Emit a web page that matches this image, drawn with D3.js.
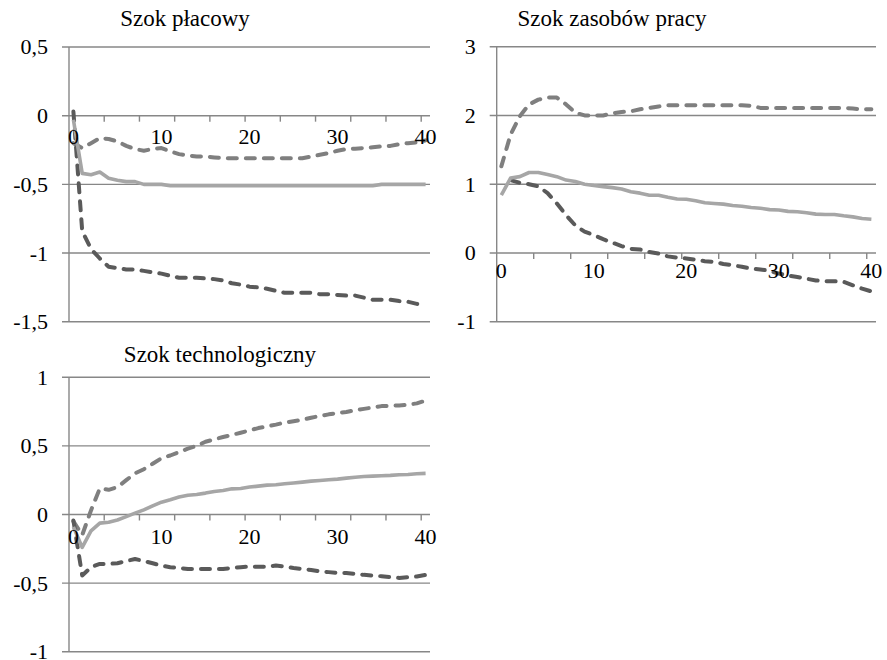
<!DOCTYPE html>
<html>
<head>
<meta charset="utf-8">
<script src="https://cdn.jsdelivr.net/npm/d3@7"></script>
<style>
  html, body { margin: 0; padding: 0; background: #fff; }
  svg { display: block; }
  text { font-family: "Liberation Serif", "Times New Roman", serif; fill: #000; }
</style>
</head>
<body>
<svg id="chart" width="887" height="660"></svg>
<script>
// Horizon 0..40 quarters
const periods = d3.range(0, 41);
const xTickLabels = [0, 10, 20, 30, 40];

// Szok płacowy
const wageMean  = [-0.03,-0.42,-0.43,-0.41,-0.455,-0.47,-0.48,-0.48,-0.5,-0.5,-0.5,-0.51,-0.51,-0.51,-0.51,-0.51,-0.51,-0.51,-0.51,-0.51,-0.51,-0.51,-0.51,-0.51,-0.51,-0.51,-0.51,-0.51,-0.51,-0.51,-0.51,-0.51,-0.51,-0.51,-0.51,-0.5,-0.5,-0.5,-0.5,-0.5,-0.5];
const wageUpper = [-0.2,-0.236,-0.2,-0.163,-0.17,-0.187,-0.22,-0.243,-0.255,-0.243,-0.236,-0.26,-0.28,-0.29,-0.297,-0.297,-0.304,-0.31,-0.31,-0.31,-0.31,-0.31,-0.31,-0.31,-0.31,-0.31,-0.31,-0.297,-0.285,-0.272,-0.255,-0.243,-0.24,-0.236,-0.23,-0.224,-0.22,-0.207,-0.2,-0.195,-0.18];
const wageLower = [0.03,-0.84,-0.97,-1.04,-1.1,-1.11,-1.12,-1.12,-1.13,-1.14,-1.15,-1.165,-1.18,-1.18,-1.18,-1.185,-1.19,-1.2,-1.22,-1.23,-1.245,-1.25,-1.26,-1.275,-1.29,-1.29,-1.29,-1.29,-1.3,-1.3,-1.305,-1.31,-1.31,-1.325,-1.34,-1.34,-1.34,-1.35,-1.355,-1.37,-1.38];

// Szok zasobów pracy (lower band has no value in period 0)
const laborMean  = [0.84,1.09,1.11,1.17,1.17,1.14,1.11,1.06,1.04,1.0,0.98,0.965,0.95,0.93,0.89,0.87,0.84,0.84,0.81,0.785,0.78,0.76,0.73,0.72,0.71,0.69,0.68,0.66,0.65,0.63,0.625,0.605,0.6,0.585,0.565,0.56,0.56,0.54,0.525,0.5,0.49];
const laborUpper = [1.26,1.72,1.99,2.16,2.23,2.26,2.26,2.16,2.04,2.0,2.0,2.0,2.03,2.05,2.06,2.09,2.11,2.13,2.15,2.15,2.15,2.15,2.15,2.15,2.15,2.15,2.15,2.14,2.11,2.11,2.11,2.11,2.11,2.11,2.11,2.11,2.11,2.11,2.1,2.09,2.09];
const laborLower = [null,1.06,1.02,1.0,0.97,0.87,0.72,0.55,0.4,0.31,0.26,0.2,0.15,0.1,0.06,0.05,0.015,-0.01,-0.05,-0.07,-0.08,-0.1,-0.12,-0.13,-0.16,-0.18,-0.2,-0.23,-0.24,-0.26,-0.3,-0.33,-0.35,-0.375,-0.4,-0.41,-0.41,-0.42,-0.47,-0.52,-0.56];

// Szok technologiczny
const techMean  = [-0.09,-0.24,-0.12,-0.063,-0.056,-0.04,-0.015,0.01,0.034,0.063,0.09,0.107,0.127,0.14,0.146,0.156,0.168,0.175,0.187,0.19,0.2,0.207,0.214,0.217,0.224,0.23,0.236,0.243,0.248,0.253,0.258,0.265,0.272,0.277,0.28,0.282,0.285,0.29,0.292,0.297,0.3];
const techUpper = [-0.05,-0.15,0.03,0.19,0.18,0.2,0.25,0.3,0.33,0.37,0.41,0.43,0.455,0.48,0.5,0.53,0.547,0.565,0.58,0.596,0.613,0.63,0.642,0.655,0.67,0.68,0.69,0.705,0.718,0.73,0.74,0.747,0.76,0.77,0.78,0.79,0.793,0.795,0.8,0.81,0.83];
const techLower = [-0.044,-0.445,-0.384,-0.36,-0.36,-0.355,-0.34,-0.324,-0.34,-0.355,-0.372,-0.384,-0.39,-0.397,-0.397,-0.397,-0.397,-0.397,-0.39,-0.384,-0.38,-0.38,-0.38,-0.372,-0.38,-0.39,-0.397,-0.404,-0.414,-0.42,-0.426,-0.426,-0.433,-0.44,-0.445,-0.45,-0.457,-0.462,-0.457,-0.452,-0.44];

// Value-axis ticks per panel
const wageTicks  = [0.5, 0, -0.5, -1, -1.5];
const laborTicks = [3, 2, 1, 0, -1];
const techTicks  = [1, 0.5, 0, -0.5, -1];

const panels = [
  { title: "Szok płacowy", titleX: 185, titleY: 26,
    box: { left: 69, right: 430, top: 47, bottom: 321.7 },
    domain: [-1.5, 0.5], ticks: wageTicks, xLabelDy: 28,
    mean: wageMean, upper: wageUpper, lower: wageLower },
  { title: "Szok zasobów pracy", titleX: 612, titleY: 26,
    box: { left: 496.7, right: 876, top: 46.7, bottom: 321.7 },
    domain: [-1, 3], ticks: laborTicks, xLabelDy: 25,
    mean: laborMean, upper: laborUpper, lower: laborLower },
  { title: "Szok technologiczny", titleX: 220, titleY: 362,
    box: { left: 69, right: 430, top: 377.3, bottom: 651.7 },
    domain: [-1, 1], ticks: techTicks, xLabelDy: 29,
    mean: techMean, upper: techUpper, lower: techLower }
];

const fmt = v => String(v).replace(".", ",");
const axisColor = "#878787";

const svg = d3.select("#chart");

panels.forEach(p => {
  const g = svg.append("g");
  const b = p.box;

  const x = d3.scaleBand().domain(periods).range([b.left, b.right]).padding(0);
  const y = d3.scaleLinear().domain(p.domain).range([b.bottom, b.top]);
  const cx = i => x(i) + x.bandwidth() / 2;

  // horizontal gridlines with outward tick stubs
  g.selectAll(".grid").data(p.ticks).join("line")
    .attr("x1", b.left - 7).attr("x2", b.right)
    .attr("y1", d => y(d)).attr("y2", d => y(d))
    .attr("stroke", axisColor).attr("stroke-width", 1.4);

  // value axis
  g.append("line")
    .attr("x1", b.left).attr("x2", b.left)
    .attr("y1", b.top).attr("y2", b.bottom)
    .attr("stroke", axisColor).attr("stroke-width", 1.4);

  g.selectAll(".ylab").data(p.ticks).join("text")
    .attr("x", b.left - 21).attr("y", d => y(d))
    .attr("dy", "0.34em")
    .attr("text-anchor", "end")
    .style("font-size", "22px")
    .text(fmt);

  // category axis crosses at zero; tick marks every 4 periods
  const y0 = y(0);
  const tickPeriods = periods.filter(i => i % 4 === 0 && i > 0);
  g.selectAll(".xtick").data(tickPeriods).join("line")
    .attr("x1", d => x(d)).attr("x2", d => x(d))
    .attr("y1", y0).attr("y2", y0 + 6)
    .attr("stroke", axisColor).attr("stroke-width", 1.4);

  // series: confidence bands dashed, mean response solid on top
  const line = d3.line()
    .defined(d => d !== null)
    .x((d, i) => cx(i)).y(d => y(d));
  g.append("path").datum(p.upper).attr("d", line)
    .attr("fill", "none").attr("stroke", "#7f7f7f")
    .attr("stroke-width", 4).attr("stroke-linecap", "round")
    .attr("stroke-dasharray", "9,9").attr("stroke-linejoin", "round");
  g.append("path").datum(p.lower).attr("d", line)
    .attr("fill", "none").attr("stroke", "#5a5a5a")
    .attr("stroke-width", 4).attr("stroke-linecap", "round")
    .attr("stroke-dasharray", "9,9").attr("stroke-linejoin", "round");
  g.append("path").datum(p.mean).attr("d", line)
    .attr("fill", "none").attr("stroke", "#a6a6a6")
    .attr("stroke-width", 3.6).attr("stroke-linejoin", "round");

  // category labels sit just under the zero line
  g.selectAll(".xlab").data(xTickLabels).join("text")
    .attr("x", d => cx(d)).attr("y", y0 + p.xLabelDy)
    .attr("text-anchor", "middle")
    .style("font-size", "22px")
    .text(d => d);

  g.append("text")
    .attr("x", p.titleX).attr("y", p.titleY)
    .attr("text-anchor", "middle")
    .style("font-size", "23px")
    .text(p.title);
});
</script>
</body>
</html>
